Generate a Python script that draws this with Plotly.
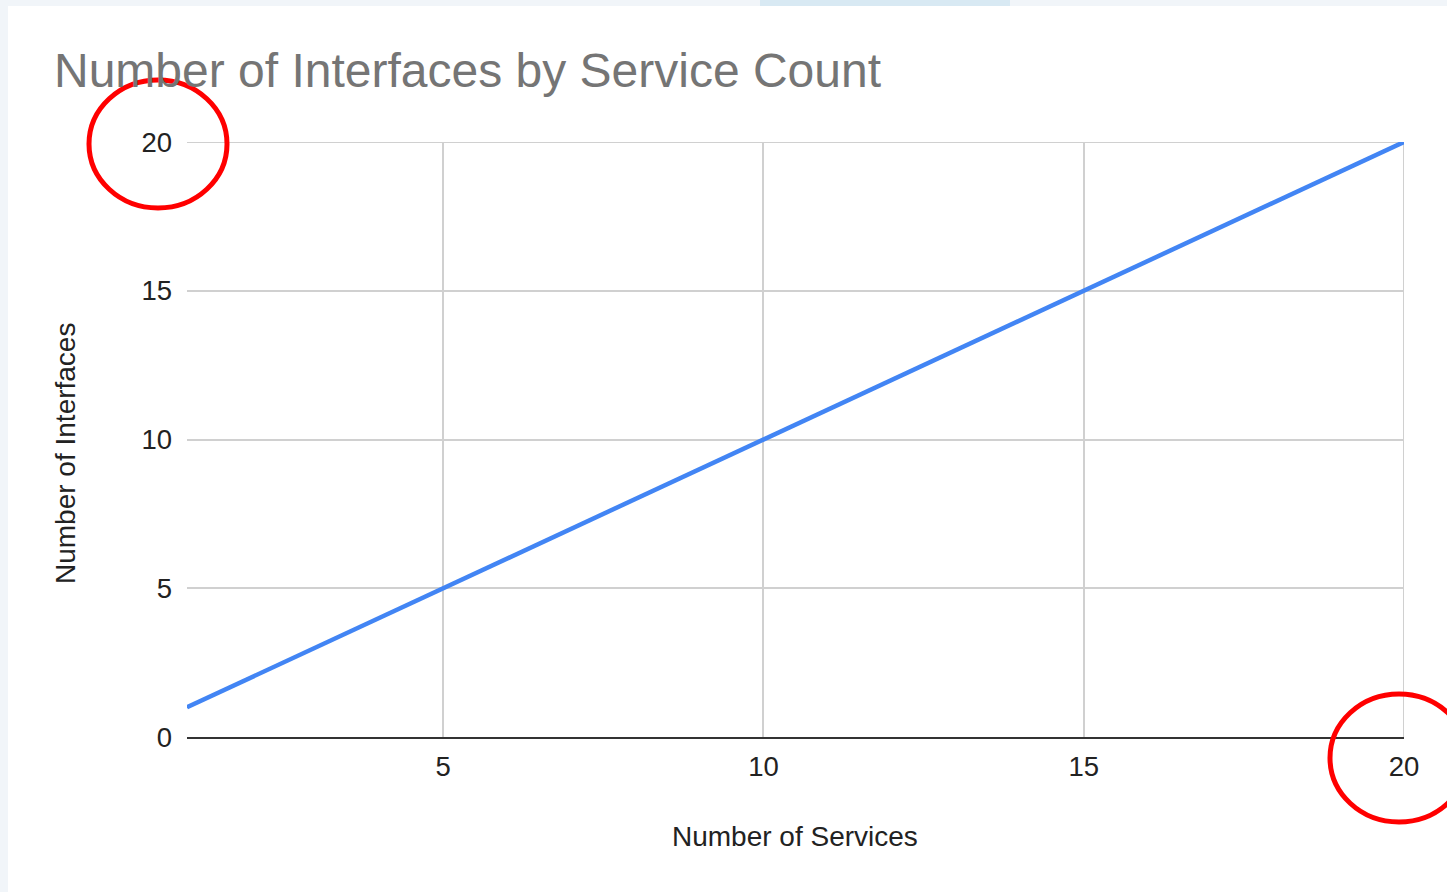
import plotly.graph_objects as go

# Data: interfaces needed for each service count
services = [1, 2, 3, 4, 5, 6, 7, 8, 9, 10, 11, 12, 13, 14, 15, 16, 17, 18, 19, 20]
interfaces = [1, 2, 3, 4, 5, 6, 7, 8, 9, 10, 11, 12, 13, 14, 15, 16, 17, 18, 19, 20]

x_ticks = [5, 10, 15, 20]
y_ticks = [0, 5, 10, 15, 20]

title_text = "Number of Interfaces by Service Count"
x_title = "Number of Services"
y_title = "Number of Interfaces"

# Canvas and plot-area geometry (pixels)
W, H = 1447, 892
L, R, T, B = 187, 43, 142, 155
PW, PH = W - L - R, H - T - B


def px(xp):
    return (xp - L) / PW


def py(yp):
    return (H - B - yp) / PH


FONT = "Liberation Sans, Arial, sans-serif"
GRID = "#d0d0d0"

fig = go.Figure()
fig.add_trace(go.Scatter(
    x=services, y=interfaces, mode="lines",
    line=dict(color="#4285f4", width=4.5),
    hoverinfo="x+y", showlegend=False,
))

x_min, x_max = services[0], x_ticks[-1]
y_min, y_max = y_ticks[0], y_ticks[-1]

shapes = [
    # white card over the page background
    dict(type="rect", xref="paper", yref="paper", layer="below",
         x0=px(8), x1=px(W + 5), y0=py(6), y1=py(H + 5),
         fillcolor="white", line=dict(width=0)),
    # faint banner tint at the top edge
    dict(type="rect", xref="paper", yref="paper", layer="below",
         x0=px(760), x1=px(1010), y0=py(0), y1=py(6),
         fillcolor="#d8e9f3", line=dict(width=0)),
    # gridlines that sit on the plot-area edges
    dict(type="line", xref="x", yref="y", layer="below",
         x0=x_max, x1=x_max, y0=y_min, y1=y_max,
         line=dict(color=GRID, width=2)),
    dict(type="line", xref="x", yref="y", layer="below",
         x0=x_min, x1=x_max, y0=y_max, y1=y_max,
         line=dict(color=GRID, width=2)),
    # red highlight rings around the maximum tick labels
    dict(type="circle", xref="paper", yref="paper", layer="above",
         x0=px(89), x1=px(227), y0=py(80), y1=py(208),
         line=dict(color="#ff0000", width=5)),
    dict(type="circle", xref="paper", yref="paper", layer="above",
         x0=px(1330), x1=px(1468), y0=py(694), y1=py(822),
         line=dict(color="#ff0000", width=5)),
]

annotations = [
    dict(text=title_text, xref="paper", yref="paper", x=px(52), y=py(71),
         xanchor="left", yanchor="middle", showarrow=False,
         font=dict(family=FONT, size=48, color="#757575")),
    dict(text=y_title, xref="paper", yref="paper", x=px(65), y=py(454),
         xanchor="center", yanchor="middle", textangle=-90, showarrow=False,
         font=dict(family=FONT, size=28, color="#222222")),
    dict(text=x_title, xref="paper", yref="paper", x=px(795), y=py(836),
         xanchor="center", yanchor="middle", showarrow=False,
         font=dict(family=FONT, size=28, color="#222222")),
]

fig.update_layout(
    width=W, height=H,
    margin=dict(l=L, r=R, t=T, b=B, pad=0),
    paper_bgcolor="#f1f5f9",
    plot_bgcolor="rgba(0,0,0,0)",
    font=dict(family=FONT, size=27.5, color="#222222"),
    shapes=shapes,
    annotations=annotations,
    xaxis=dict(
        range=[x_min, x_max], tickvals=x_ticks, ticks="",
        showgrid=True, gridcolor=GRID, gridwidth=2,
        zeroline=False, showline=True, linecolor="#333333", linewidth=2,
        ticklabelstandoff=4, fixedrange=True,
    ),
    yaxis=dict(
        range=[y_min, y_max], tickvals=y_ticks, ticks="",
        showgrid=True, gridcolor=GRID, gridwidth=2,
        zeroline=False, showline=False,
        ticklabelstandoff=14, fixedrange=True,
    ),
)

fig.write_html("out.html")
